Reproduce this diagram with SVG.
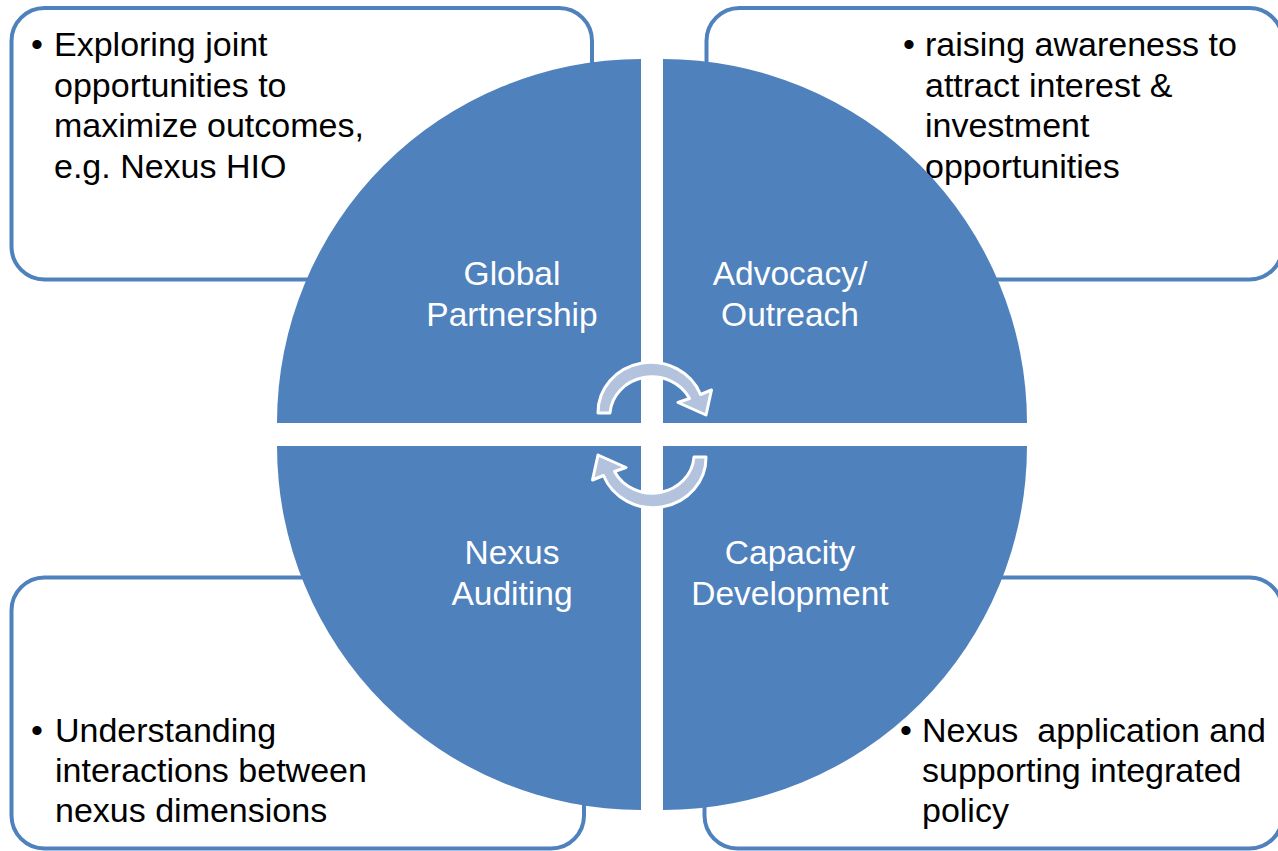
<svg xmlns="http://www.w3.org/2000/svg" width="1278" height="851" viewBox="0 0 1278 851">
<style>
.box{fill:#ffffff;stroke:#4f81bd;stroke-width:4}
.body{font-family:"Liberation Sans",Arial,sans-serif;font-size:34px;fill:#000000}
.quad{fill:#4f81bd}
.lbl{font-family:"Liberation Sans",Arial,sans-serif;font-size:33.5px;fill:#ffffff;text-anchor:middle}
.arr{fill:#b3c3de;stroke:#ffffff;stroke-width:3;stroke-linejoin:round}
</style>
<rect width="1278" height="851" fill="#ffffff"/>
<g id="box-tl">
<rect class="box" x="11.5" y="8" width="580.5" height="271.5" rx="33"/>
<text class="body" x="31" y="56">•</text>
<text class="body"><tspan x="54" y="56">Exploring joint</tspan><tspan x="54" y="96.5">opportunities to</tspan><tspan x="54" y="137">maximize outcomes,</tspan><tspan x="54" y="177.5">e.g. Nexus HIO</tspan></text>
</g>
<g id="box-tr">
<rect class="box" x="706.5" y="8" width="576" height="271.5" rx="33"/>
<text class="body" x="903" y="56">•</text>
<text class="body"><tspan x="925" y="56">raising awareness to</tspan><tspan x="925" y="96.5">attract interest &amp;</tspan><tspan x="925" y="137">investment</tspan><tspan x="925" y="177.5">opportunities</tspan></text>
</g>
<g id="box-bl">
<rect class="box" x="11.5" y="577.5" width="572.5" height="271" rx="33"/>
<text class="body" x="31" y="742">•</text>
<text class="body"><tspan x="55" y="742">Understanding</tspan><tspan x="55" y="782">interactions between</tspan><tspan x="55" y="822">nexus dimensions</tspan></text>
</g>
<g id="box-br">
<rect class="box" x="704.5" y="577.5" width="578" height="271" rx="33"/>
<text class="body" x="900" y="742">•</text>
<text class="body" xml:space="preserve" style="white-space:pre"><tspan x="922" y="742">Nexus  application and</tspan><tspan x="922" y="782">supporting integrated</tspan><tspan x="922" y="822">policy</tspan></text>
</g>
<g id="q-global">
<path class="quad" d="M641,423 L277,423 A364,364 0 0 1 641,59 Z"/>
<text class="lbl"><tspan x="512" y="285">Global</tspan><tspan x="512" y="325.5">Partnership</tspan></text>
</g>
<g id="q-advocacy">
<path class="quad" d="M663,423 L663,59 A364,364 0 0 1 1027,423 Z"/>
<text class="lbl"><tspan x="790" y="285">Advocacy/</tspan><tspan x="790" y="325.5">Outreach</tspan></text>
</g>
<g id="q-auditing">
<path class="quad" d="M641,446 L641,810 A364,364 0 0 1 277,446 Z"/>
<text class="lbl"><tspan x="512" y="564">Nexus</tspan><tspan x="512" y="604.5">Auditing</tspan></text>
</g>
<g id="q-capacity">
<path class="quad" d="M663,446 L1027,446 A364,364 0 0 1 663,810 Z"/>
<text class="lbl"><tspan x="790" y="564">Capacity</tspan><tspan x="790" y="604.5">Development</tspan></text>
</g>
<g id="connectors">
<path id="cycle-top" class="arr" d="M598,413 A53,50 0 0 1 700.5,394.5 L711.5,390 L706,415 L678,402.5 L689.5,398.5 A42,39 0 0 0 610,413 Z"/>
<path id="cycle-bottom" class="arr" transform="rotate(180 652 435)" d="M598,413 A53,50 0 0 1 700.5,394.5 L711.5,390 L706,415 L678,402.5 L689.5,398.5 A42,39 0 0 0 610,413 Z"/>
</g>
</svg>
